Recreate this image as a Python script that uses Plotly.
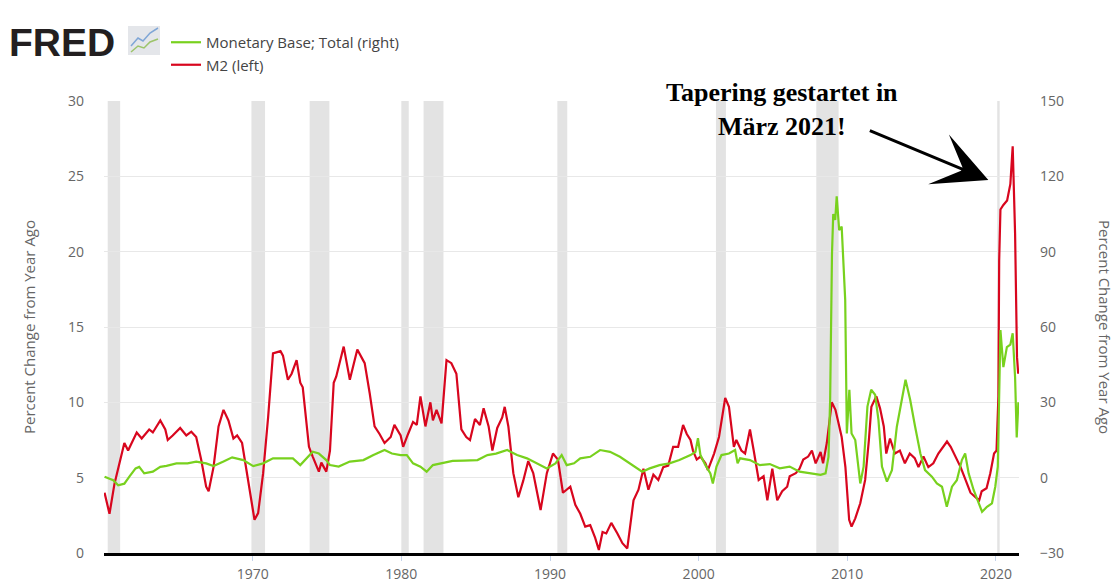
# Import libraries
import plotly.graph_objects as go

# ---- Data ----

# M2, percent change from year ago (left axis)
m2_dates = [
    "1960-01-15", "1960-05-15", "1960-09-15", "1961-02-15", "1961-05-15", "1961-08-15",
    "1962-03-15", "1962-07-15", "1963-01-15", "1963-04-15", "1963-10-15", "1964-02-15",
    "1964-04-15", "1964-08-15", "1965-02-15", "1965-07-15", "1965-11-15", "1966-03-15",
    "1966-07-15", "1966-11-15", "1967-01-15", "1967-05-15", "1967-09-15", "1968-01-15",
    "1968-05-15", "1968-09-15", "1968-12-15", "1969-04-15", "1969-08-15", "1969-12-15",
    "1970-02-15", "1970-05-15", "1970-09-15", "1971-01-15", "1971-05-15", "1971-11-15",
    "1972-01-15", "1972-05-15", "1972-08-15", "1972-12-15", "1973-03-15", "1973-05-15",
    "1973-10-15", "1974-01-15", "1974-06-15", "1974-08-15", "1974-12-15", "1975-03-15",
    "1975-06-15", "1975-08-15", "1976-02-15", "1976-07-15", "1977-01-15", "1977-05-15",
    "1977-07-15", "1977-11-15", "1978-03-15", "1978-07-15", "1978-11-15", "1979-04-15",
    "1979-07-15", "1979-12-15", "1980-02-15", "1980-06-15", "1980-10-15", "1981-01-15",
    "1981-04-15", "1981-08-15", "1981-12-15", "1982-02-15", "1982-05-15", "1982-09-15",
    "1983-01-15", "1983-05-15", "1983-09-15", "1984-01-15", "1984-05-15", "1984-08-15",
    "1984-12-15", "1985-04-15", "1985-07-15", "1985-11-15", "1986-02-15", "1986-06-15",
    "1986-10-15", "1986-12-15", "1987-03-15", "1987-07-15", "1987-11-15", "1988-03-15",
    "1988-07-15", "1988-11-15", "1989-05-15", "1989-10-15", "1990-03-15", "1990-07-15",
    "1990-11-15", "1991-05-15", "1991-09-15", "1992-01-15", "1992-05-15", "1992-09-15",
    "1993-01-15", "1993-04-15", "1993-07-15", "1993-10-15", "1994-02-15", "1994-07-15",
    "1994-11-15", "1995-03-15", "1995-05-15", "1995-08-15", "1995-12-15", "1996-04-15",
    "1996-08-15", "1996-12-15", "1997-04-15", "1997-08-15", "1997-12-15", "1998-04-15",
    "1998-08-15", "1998-12-15", "1999-03-15", "1999-06-15", "1999-08-15", "1999-11-15",
    "2000-02-15", "2000-06-15", "2000-08-15", "2001-01-15", "2001-05-15", "2001-07-15",
    "2001-10-15", "2002-01-15", "2002-03-15", "2002-05-15", "2002-07-15", "2002-11-15",
    "2003-02-15", "2003-06-15", "2003-09-15", "2004-01-15", "2004-05-15", "2004-08-15",
    "2004-12-15", "2005-04-15", "2005-08-15", "2005-12-15", "2006-02-15", "2006-07-15",
    "2006-10-15", "2007-01-15", "2007-05-15", "2007-08-15", "2007-11-15", "2008-03-15",
    "2008-05-15", "2008-08-15", "2008-12-15", "2009-03-15", "2009-05-15", "2009-08-15",
    "2009-11-15", "2010-02-15", "2010-04-15", "2010-07-15", "2010-11-15", "2011-03-15",
    "2011-06-15", "2011-08-15", "2011-12-15", "2012-03-15", "2012-06-15", "2012-08-15",
    "2012-11-15", "2013-03-15", "2013-07-15", "2013-11-15", "2014-03-15", "2014-07-15",
    "2014-10-15", "2015-02-15", "2015-06-15", "2015-10-15", "2016-02-15", "2016-06-15",
    "2016-09-15", "2016-12-15", "2017-04-15", "2017-08-15", "2017-12-15", "2018-04-15",
    "2018-08-15", "2018-11-15", "2019-01-15", "2019-05-15", "2019-08-15", "2019-11-15",
    "2020-01-15", "2020-03-01", "2020-03-20", "2020-04-20", "2020-07-01", "2020-10-01",
    "2020-12-20", "2021-02-15", "2021-04-15", "2021-06-01", "2021-07-01",
]
m2_values = [
    4.0, 2.6, 4.6, 6.4, 7.3, 6.8,
    8.0, 7.6, 8.2, 8.0, 8.8, 8.2,
    7.5, 7.8, 8.3, 7.8, 8.05, 7.7,
    6.2, 4.4, 4.1, 5.7, 8.4, 9.5,
    8.8, 7.6, 7.8, 7.3, 5.3, 3.5,
    2.2, 2.65, 5.3, 9.0, 13.25, 13.4,
    13.1, 11.5, 11.9, 12.8, 11.3, 11.0,
    7.05, 6.4, 5.4, 6.0, 5.4, 6.8,
    11.3, 11.7, 13.7, 11.5, 13.5, 12.9,
    12.6, 10.6, 8.4, 7.9, 7.3, 7.7,
    8.5, 7.8, 7.05, 7.9, 8.7, 8.5,
    10.4, 8.4, 10.0, 8.8, 9.5, 8.6,
    12.8, 12.6, 11.9, 8.2, 7.7, 7.5,
    8.9, 8.5, 9.6, 8.4, 6.8, 8.3,
    9.0, 9.7, 8.4, 5.3, 3.7, 4.8,
    6.1, 5.3, 2.85, 5.3, 6.6, 6.2,
    4.0, 4.4, 3.2, 2.6, 1.75, 1.85,
    1.0, 0.2, 1.4, 1.3, 2.0, 1.3,
    0.65, 0.3, 1.75, 3.5, 4.2, 5.6,
    4.2, 5.2, 4.85, 5.7, 5.8, 7.05,
    7.05, 8.5, 7.9, 7.5, 6.8, 6.2,
    6.4, 5.95, 5.5, 6.6, 7.7, 8.8,
    10.3, 9.7, 8.4, 7.05, 7.5, 6.8,
    6.6, 8.2, 6.8, 4.85, 5.1, 3.5,
    5.6, 3.5, 4.1, 4.4, 5.1, 5.3,
    5.6, 6.2, 6.4, 6.8, 5.95, 6.7,
    5.95, 7.3, 10.0, 9.5, 8.8, 7.7,
    5.7, 2.2, 1.75, 2.3, 3.3, 4.85,
    7.5, 9.7, 10.4, 9.6, 8.4, 6.6,
    7.6, 6.6, 6.8, 5.95, 6.6, 6.3,
    5.7, 6.4, 5.7, 5.95, 6.6, 7.05,
    7.4, 7.05, 6.4, 5.7, 4.85, 4.0,
    3.7, 3.5, 4.1, 4.3, 5.3, 6.6,
    6.8, 10.4, 19.4, 22.8, 23.1, 23.4,
    24.5, 27.0, 21.2, 13.0, 11.9,
]

# Monetary Base; Total, percent change from year ago (right axis)
base_dates = [
    "1960-01-15", "1960-08-15", "1960-12-15", "1961-05-15", "1961-09-15", "1962-02-15",
    "1962-05-15", "1962-09-15", "1963-04-15", "1963-10-15", "1964-03-15", "1964-11-15",
    "1965-08-15", "1966-03-15", "1966-11-15", "1967-05-15", "1968-01-15", "1968-08-15",
    "1969-05-15", "1970-01-15", "1970-09-15", "1971-05-15", "1972-01-15", "1972-09-15",
    "1973-03-15", "1973-08-15", "1974-01-15", "1974-06-15", "1974-12-15", "1975-03-15",
    "1975-10-15", "1976-07-15", "1977-06-15", "1978-02-15", "1978-11-15", "1979-05-15",
    "1979-12-15", "1980-05-15", "1980-10-15", "1981-04-15", "1981-09-15", "1982-02-15",
    "1982-10-15", "1983-06-15", "1984-03-15", "1985-02-15", "1985-10-15", "1986-05-15",
    "1987-02-15", "1987-10-15", "1988-06-15", "1989-02-15", "1989-10-15", "1990-05-15",
    "1990-10-15", "1991-02-15", "1991-08-15", "1992-01-15", "1992-09-15", "1993-05-15",
    "1994-01-15", "1994-09-15", "1995-05-15", "1996-03-15", "1996-09-15", "1997-05-15",
    "1998-01-15", "1998-09-15", "1999-06-15", "1999-10-15", "1999-12-15", "2000-02-15",
    "2000-06-15", "2000-10-15", "2000-12-15", "2001-03-15", "2001-07-15", "2002-01-15",
    "2002-06-15", "2002-08-15", "2002-10-15", "2003-06-15", "2004-02-15", "2004-10-15",
    "2005-06-15", "2006-02-15", "2006-10-15", "2007-06-15", "2008-03-15", "2008-07-15",
    "2008-09-25", "2008-11-05", "2008-11-20", "2008-12-20", "2009-01-20", "2009-03-10",
    "2009-04-15", "2009-06-15", "2009-08-15", "2009-11-10", "2009-12-20", "2010-02-20",
    "2010-04-15", "2010-07-15", "2010-11-15", "2011-02-05", "2011-05-10", "2011-08-10",
    "2011-11-15", "2012-02-05", "2012-05-01", "2012-09-01", "2013-01-01", "2013-05-01",
    "2013-12-01", "2014-03-25", "2014-07-25", "2014-12-01", "2015-03-25", "2015-09-10",
    "2016-01-10", "2016-05-15", "2016-09-10", "2017-01-15", "2017-05-15", "2017-09-15",
    "2017-12-05", "2018-03-01", "2018-07-01", "2018-11-01", "2019-01-25", "2019-05-25",
    "2019-09-25", "2019-12-15", "2020-02-15", "2020-04-20", "2020-05-25", "2020-07-01",
    "2020-09-25", "2020-12-20", "2021-02-15", "2021-04-15", "2021-05-25", "2021-07-05",
]
base_values = [
    0.4, -1.0, -3.0, -2.4, 0.4, 3.7,
    4.3, 1.7, 2.4, 4.3, 4.7, 5.7,
    5.7, 6.4, 5.7, 4.6, 6.4, 8.1,
    7.0, 4.6, 5.7, 7.7, 7.7, 7.7,
    5.0, 7.7, 10.3, 9.6, 7.0, 5.0,
    4.4, 6.4, 7.0, 9.0, 11.0, 9.6,
    9.0, 9.0, 5.7, 4.4, 2.4, 5.0,
    5.7, 6.7, 6.8, 7.0, 9.0, 9.6,
    11.0, 9.0, 7.7, 5.7, 3.7, 5.7,
    9.0, 5.0, 5.7, 7.7, 8.3, 11.0,
    10.3, 8.3, 5.7, 2.4, 3.7, 5.0,
    5.7, 7.0, 9.0, 10.3, 15.7, 9.0,
    5.0, 1.7, -2.3, 4.4, 9.0, 9.6,
    11.0, 5.7, 7.7, 7.0, 5.0, 5.4,
    3.7, 4.4, 2.4, 1.7, 1.1, 1.7,
    8.3, 31.0, 55.0, 89.0, 105.0, 102.6,
    112.0, 98.6, 100.0, 70.7, 17.6, 35.0,
    17.6, 15.0, -2.3, 4.4, 28.3, 35.0,
    33.0, 23.0, 4.4, -1.6, 3.0, 20.3,
    39.0, 31.0, 20.3, 9.6, 3.0, 0.4,
    -2.3, -3.6, -11.6, -3.6, -1.0, 7.0,
    9.6, 1.7, -4.9, -10.2, -13.6, -11.6,
    -10.2, -3.6, 4.4, 58.8, 52.0, 44.0,
    52.0, 53.0, 57.5, 40.0, 16.0, 30.0,
]

# NBER recessions (shaded)
rec_start = ["1960-04-01", "1969-12-01", "1973-11-01", "1980-01-01", "1981-07-01",
             "1990-07-01", "2001-03-01", "2007-12-01", "2020-02-01"]
rec_end = ["1961-02-01", "1970-11-01", "1975-03-01", "1980-07-01", "1982-11-01",
           "1991-03-01", "2001-11-01", "2009-06-01", "2020-04-01"]

# Tick labels on the date axis
year_ticks = ["1970-01-01", "1980-01-01", "1990-01-01", "2000-01-01", "2010-01-01", "2020-01-01"]
year_labels = ["1970", "1980", "1990", "2000", "2010", "2020"]

# ---- Layout helpers (pixel -> paper) ----
W, H = 1116, 583
ML, MR, MT, MB = 104, 97, 101, 30
PW, PH = W - ML - MR, H - MT - MB


def px_x(p):
    return (p - ML) / PW


def px_y(p):
    return (H - MB - p) / PH


font_main = "Open Sans"
grey_text = "#666666"
green = "#78d11e"
red = "#d8061e"

fig = go.Figure()

# ---- Series ----
fig.add_trace(go.Scatter(x=base_dates, y=base_values, name="Monetary Base; Total (right)",
                         mode="lines", line=dict(color=green, width=2.2), yaxis="y2"))
fig.add_trace(go.Scatter(x=m2_dates, y=m2_values, name="M2 (left)",
                         mode="lines", line=dict(color=red, width=2.2)))

# ---- Recession bars ----
shapes = []
for s, e in zip(rec_start, rec_end):
    shapes.append(dict(type="rect", xref="x", yref="paper", x0=s, x1=e, y0=0, y1=1,
                       fillcolor="#e3e3e3", line=dict(width=0), layer="between"))

# small FRED graph icon next to the logo
shapes.append(dict(type="rect", xref="paper", yref="paper",
                   x0=px_x(128), x1=px_x(160), y0=px_y(55), y1=px_y(26),
                   fillcolor="#e4e6ea", line=dict(width=0)))
shapes.append(dict(type="path", xref="paper", yref="paper",
                   path="M %f,%f L %f,%f L %f,%f L %f,%f L %f,%f" % (
                       px_x(131), px_y(46), px_x(138), px_y(38), px_x(143), px_y(41),
                       px_x(150), px_y(33), px_x(158), px_y(28)),
                   line=dict(color="#7fa6d6", width=1.5)))
shapes.append(dict(type="path", xref="paper", yref="paper",
                   path="M %f,%f L %f,%f L %f,%f L %f,%f L %f,%f" % (
                       px_x(131), px_y(52), px_x(138), px_y(46), px_x(144), px_y(48),
                       px_x(150), px_y(42), px_x(158), px_y(39)),
                   line=dict(color="#9cc46a", width=1.5)))

# ---- Annotations ----
annotations = [
    # FRED logo
    dict(text="<b>FRED</b>", xref="paper", yref="paper", x=px_x(7), y=px_y(42),
         xanchor="left", yanchor="middle", showarrow=False,
         font=dict(family="Liberation Sans", size=39, color="#231f20")),
    # right axis title, reads top-to-bottom
    dict(text="Percent Change from Year Ago", xref="paper", yref="paper",
         x=px_x(1105), y=0.5, xanchor="center", textangle=90, showarrow=False,
         font=dict(family=font_main, size=15, color=grey_text)),
    # note text
    dict(text="<b>Tapering gestartet in<br>März 2021!</b>", xref="paper", yref="paper",
         x=px_x(782), y=px_y(110), xanchor="center", yanchor="middle", showarrow=False,
         font=dict(family="Liberation Serif", size=26, color="black")),
    # arrow
    dict(text="", xref="x", yref="y", x="2019-06-28", y=24.75, ax=-120, ay=-50,
         showarrow=True, arrowhead=3, arrowsize=3.0, arrowwidth=3, arrowcolor="black",
         standoff=0),
]

# ---- Layout ----
fig.update_layout(
    width=W, height=H,
    paper_bgcolor="white", plot_bgcolor="white",
    margin=dict(l=ML, r=MR, t=MT, b=MB, autoexpand=False),
    font=dict(family=font_main, size=14, color=grey_text),
    showlegend=True,
    legend=dict(x=px_x(166), y=px_y(26), xanchor="left", yanchor="top",
                bgcolor="rgba(0,0,0,0)", tracegroupgap=0,
                font=dict(family=font_main, size=15, color="#444444")),
    xaxis=dict(
        type="date", automargin=False,
        range=["1960-01-01", "2021-07-20"],
        tickmode="array", tickvals=year_ticks, ticktext=year_labels,
        showgrid=False, zeroline=False,
        showline=True, linecolor="black", linewidth=3,
        ticks="outside", ticklen=5, tickcolor="#c5d3ea",
        tickfont=dict(family=font_main, size=14, color=grey_text),
        ticklabelstandoff=1,
    ),
    yaxis=dict(
        range=[0, 30], dtick=5, automargin=False,
        showgrid=True, gridcolor="#e8e8e8", gridwidth=1,
        zeroline=False, showline=False, ticks="",
        tickfont=dict(family=font_main, size=14, color=grey_text),
        ticklabelstandoff=19,
        title=dict(text="Percent Change from Year Ago", standoff=28,
                   font=dict(family=font_main, size=15, color=grey_text)),
    ),
    yaxis2=dict(
        range=[-30, 150], dtick=30, automargin=False,
        overlaying="y", side="right",
        showgrid=False, zeroline=False, showline=False, ticks="",
        tickfont=dict(family=font_main, size=14, color=grey_text),
        ticklabelstandoff=20,
    ),
    shapes=shapes,
    annotations=annotations,
)

# drop the page's default body margin so the figure sits at the window corner
fig.write_html("out.html", config={"displayModeBar": False},
               post_script="document.body.style.margin='0px';")
